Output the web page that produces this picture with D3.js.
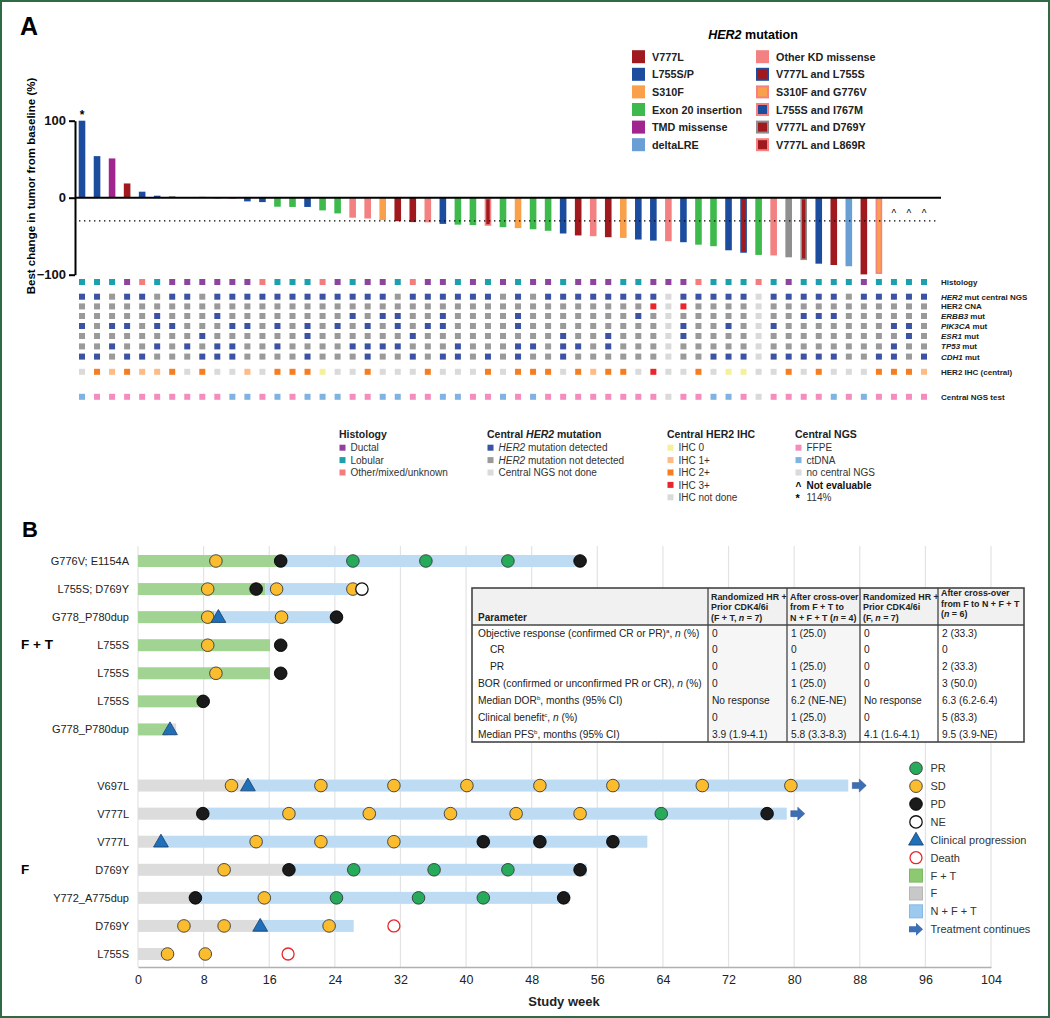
<!DOCTYPE html>
<html><head><meta charset="utf-8">
<script src="https://cdn.jsdelivr.net/npm/d3@7"></script>
<style>body{margin:0;background:#fff} svg{display:block;font-family:"Liberation Sans",Arial,sans-serif}</style>
</head><body>
<svg id="c" width="1050" height="1018"></svg>
<script>
// ================= DATA: Panel A =================
const bestChange = [100,54,51,18.5,7.8,2.6,2,0,1.2,-0.8,
 -1.5,-4.8,-5.7,-11.7,-12,-12,-16.5,-20.4,-26,-27,
 -29,-30.5,-31.7,-32,-34,-35,-35.5,-36.5,-38.3,-39.5,
 -41,-43,-46.5,-49,-50,-51.3,-52.2,-54.3,-55.7,-56.5,
 -57.8,-61,-63,-68.3,-71.5,-74.3,-75,-77.4,-81,-85.7,
 -87.4,-89,-99.6,-99,null,null,null];
const her2Mutation = ["L","L","T","V","L","L","X","X","X","L",
 "K","L","L","E","E","L","E","E","K","K",
 "S","V","V","K","L","E","E","VR","E","S",
 "E","E","L","V","K","V","S","L","L","K",
 "L","E","E","L","VL","E","K","X","VD","L",
 "V","D","V","SG",null,null,null];
const mutLegendKeys = ["V","L","S","E","T","D","K","VL","SG","LI","VD","VR"];
const mutLegendLabels = ["V777L","L755S/P","S310F","Exon 20 insertion","TMD missense","deltaLRE",
 "Other KD missense","V777L and L755S","S310F and G776V","L755S and I767M","V777L and D769Y","V777L and L869R"];
const histology = "LLLDOLDDDDDDOLLLODLDDLODDLDLDL".split("").concat("DDLDDDLLDDDOLLLOLDLLLLDLLLL".split(""));
const her2CentralNGS = "BBGBBGBBGBBBBBBBBBBBBGBBBBBBGB".split("").concat("GBBBBBBBBNBBBBBNBBBBBGBBBBB".split(""));
const cnaAmplified = [38,40];
const erbb3Mut = [5,9,18,20,21,24,29,37,48,49,50];
const pik3caMut = [0,2,3,5,6,10,11,13,15,17,19,21,23,24,29,40,43,46,54,55];
const esr1Mut = [8,15,22,32,35,40,55];
const tp53Mut = [2,5,7,9,10,13,18,19,20,21,25,29,30,32,33,35,54];
const cdh1Mut = [0,1,3,4,8,9,10,15,19,22,24,25,27,29,32,42,43,44,46,47,48,49,50,53,54,56];
const ihcCentral = "N212112N2NN1N2220NN2NNN2NNN2N2".split("").concat("22N2122N3NN2N00NN2N2NNN2221".split(""));
const ngsTest = "CFFFFFFFFFCCFCFCCCFFCCFFCCFFCF".split("").concat("CFFFFFFFFNFFCCFNFFFFCFCFFFF".split(""));
const yTicksA = [-100,0,100];

// ================= DATA: Panel B =================
const patientLabels = ["G776V; E1154A","L755S; D769Y","G778_P780dup","L755S","L755S","L755S","G778_P780dup",
 "V697L","V777L","V777L","D769Y","Y772_A775dup","D769Y","L755S"];
const patientArm = ["FT","FT","FT","FT","FT","FT","FT","F","F","F","F","F","F","F"];
const patientSegments = [
 [[0,17.4,"FT"],[17.4,54.0,"NFT"]],
 [[0,15.5,"FT"],[15.5,26.6,"NFT"]],
 [[0,9.3,"FT"],[9.3,24.2,"NFT"]],
 [[0,16.1,"FT"]],
 [[0,16.1,"FT"]],
 [[0,7.9,"FT"]],
 [[0,3.7,"FT"],[3.7,4.65,"F"]],
 [[0,13.0,"F"],[13.0,86.6,"NFT"]],
 [[0,8.1,"F"],[8.1,79.1,"NFT"]],
 [[0,2.8,"F"],[2.8,62.1,"NFT"]],
 [[0,18.4,"F"],[18.4,54.7,"NFT"]],
 [[0,7.0,"F"],[7.0,52.6,"NFT"]],
 [[0,14.9,"F"],[14.9,26.3,"NFT"]],
 [[0,3.2,"F"]]
];
const patientEvents = [
 [[9.5,"SD"],[17.4,"PD"],[26.2,"PR"],[35.1,"PR"],[45.1,"PR"],[53.9,"PD"]],
 [[8.5,"SD"],[14.4,"PD"],[16.9,"SD"],[26.2,"SD"],[27.3,"NE"]],
 [[8.5,"SD"],[9.8,"CP"],[17.5,"SD"],[24.2,"PD"]],
 [[8.5,"SD"],[17.4,"PD"]],
 [[9.5,"SD"],[17.4,"PD"]],
 [[7.95,"PD"]],
 [[3.9,"CP"]],
 [[11.4,"SD"],[13.4,"CP"],[22.3,"SD"],[31.2,"SD"],[40.1,"SD"],[49.0,"SD"],[57.9,"SD"],[68.8,"SD"],[79.6,"SD"]],
 [[7.9,"PD"],[18.4,"SD"],[28.2,"SD"],[38.1,"SD"],[46.1,"SD"],[53.9,"SD"],[63.8,"PR"],[76.7,"PD"]],
 [[2.8,"CP"],[14.4,"SD"],[22.3,"SD"],[31.2,"SD"],[42.1,"PD"],[49.0,"PD"],[57.9,"PD"]],
 [[10.5,"SD"],[18.4,"PD"],[26.3,"PR"],[36.1,"PR"],[45.1,"PR"],[53.9,"PD"]],
 [[7.0,"PD"],[15.4,"SD"],[24.2,"PR"],[34.2,"PR"],[42.1,"PR"],[51.9,"PD"]],
 [[5.6,"SD"],[10.5,"SD"],[14.9,"CP"],[23.3,"SD"],[31.2,"Death"]],
 [[3.6,"SD"],[8.2,"SD"],[18.3,"Death"]]
];
const treatmentContinues = [false,false,false,false,false,false,false,true,true,false,false,false,false,false];
const weekTicks = [0,8,16,24,32,40,48,56,64,72,80,88,96,104];
const legendBKeys = ["PR","SD","PD","NE","CP","Death","FT","F","NFT","ARROW"];
const legendBLabels = ["PR","SD","PD","NE","Clinical progression","Death","F + T","F","N + F + T","Treatment continues"];

// ================= DATA: Table =================
const tableHeaders = [
 [[["Parameter"]]],
 [[["Randomized HR +"]],[["Prior CDK4/6i"]],[["(F + T, "],["n","i"],[" = 7)"]]],
 [[["After cross-over"]],[["from F + T to"]],[["N + F + T ("],["n","i"],[" = 4)"]]],
 [[["Randomized HR +"]],[["Prior CDK4/6i"]],[["(F, "],["n","i"],[" = 7)"]]],
 [[["After cross-over"]],[["from F to N + F + T"]],[["("],["n","i"],[" = 6)"]]]
];
const tableRowLabels = [
 [["Objective response (confirmed CR or PR)"],["a","sup"],[", "],["n","i"],[" (%)"]],
 [["CR"]],[["PR"]],
 [["BOR (confirmed or unconfirmed PR or CR), "],["n","i"],[" (%)"]],
 [["Median DOR"],["b","sup"],[", months (95% CI)"]],
 [["Clinical benefit"],["c","sup"],[", "],["n","i"],[" (%)"]],
 [["Median PFS"],["b","sup"],[", months (95% CI)"]]
];
const tableRowIndent = [0,1,1,0,0,0,0];
const tableValues = [
 ["0","1 (25.0)","0","2 (33.3)"],
 ["0","0","0","0"],
 ["0","1 (25.0)","0","2 (33.3)"],
 ["0","1 (25.0)","0","3 (50.0)"],
 ["No response","6.2 (NE-NE)","No response","6.3 (6.2-6.4)"],
 ["0","1 (25.0)","0","5 (83.3)"],
 ["3.9 (1.9-4.1)","5.8 (3.3-8.3)","4.1 (1.6-4.1)","9.5 (3.9-NE)"]
];

// ================= STYLES =================
const C = {V:"#a0191f",L:"#1c4c9e",S:"#f9a04b",E:"#3dba4b",T:"#a0258f",D:"#6a9fd5",K:"#f38181",X:"#8f8f8f"};
const mutStyle = {
 V:{f:C.V},L:{f:C.L},S:{f:C.S},E:{f:C.E},T:{f:C.T},D:{f:C.D},K:{f:C.K},X:{f:C.X},
 VL:{f:C.V,s:C.L},SG:{f:C.S,s:C.K},LI:{f:C.L,s:C.K},VD:{f:C.V,s:"#8f8f8f"},VR:{f:C.V,s:C.K}
};
const histCol = {D:"#8e449f",L:"#1aa0ae",O:"#f47c7c"};
const mutCol = {B:"#3c52a3",G:"#9a9a9a",N:"#dadada",R:"#e8262b"};
const ihcCol = {"0":"#f3f19b","1":"#fdbb85","2":"#f47e21","3":"#e8262b",N:"#dadada"};
const ngsCol = {F:"#f48dbd",C:"#7fb3e2",N:"#dadada"};
const regCol = {FT:"#a1d492",F:"#dcdcdc",NFT:"#bddcf3"};
const evCol = {PR:"#26ab5b",SD:"#fbbc2e",PD:"#1b1b1b"};

const svg = d3.select("#c");
svg.append("rect").attr("x",1).attr("y",1).attr("width",1048).attr("height",1016)
  .attr("fill","#fff").attr("stroke","#2f6a47").attr("stroke-width",2);

function addSegs(t, segs, fs){
  let sup=false;
  segs.forEach(s=>{
    const ts=t.append("tspan").text(s[0]);
    if(s[1]==="i") ts.attr("font-style","italic");
    if(s[1]==="sup"){ ts.attr("font-size",fs*0.6).attr("dy",-fs*0.35); sup=true; }
    else if(sup){ ts.attr("dy",fs*0.35); sup=false; }
  });
}

// ================= PANEL A =================
svg.append("text").attr("x",20).attr("y",35).attr("font-size",25).attr("font-weight","bold").text("A");
const cols = d3.range(bestChange.length);
const xA = d3.scalePoint().domain(cols).range([82,924]);
const yA = d3.scaleLinear().domain([-100,100]).range([274.7,120.7]);

svg.append("text").attr("transform",`translate(35,186) rotate(-90)`).attr("text-anchor","middle")
  .attr("font-size",11.5).attr("font-weight","bold").text("Best change in tumor from baseline (%)");

const axA = svg.append("g").attr("transform","translate(75,0)")
  .call(d3.axisLeft(yA).tickValues(yTicksA).tickSize(6).tickSizeOuter(0));
axA.select(".domain").attr("stroke","#000").attr("stroke-width",2);
axA.selectAll(".tick line").attr("stroke","#000").attr("stroke-width",2);
axA.selectAll(".tick text").attr("font-size",13).attr("font-weight","bold").attr("fill","#111")
  .attr("font-family","Liberation Sans, Arial, sans-serif");

// bars
const bw=6.6;
cols.forEach(i=>{
  const v=bestChange[i]; if(v===null) return;
  const st=mutStyle[her2Mutation[i]];
  const y0=yA(Math.max(0,v)), h=Math.abs(yA(v)-yA(0));
  if(h<=0) return;
  if(st.s){
    svg.append("rect").attr("x",xA(i)-bw/2+0.8).attr("y",y0+0.8).attr("width",bw-1.6).attr("height",Math.max(0,h-1.6))
      .attr("fill",st.f).attr("stroke",st.s).attr("stroke-width",1.6);
  } else {
    svg.append("rect").attr("x",xA(i)-bw/2).attr("y",y0).attr("width",bw).attr("height",h).attr("fill",st.f);
  }
});
// zero line & threshold
svg.append("line").attr("x1",75).attr("x2",xA(56)+17).attr("y1",yA(0)).attr("y2",yA(0)).attr("stroke","#000").attr("stroke-width",2);
svg.append("line").attr("x1",79).attr("x2",xA(56)+13).attr("y1",yA(-30)).attr("y2",yA(-30))
  .attr("stroke","#000").attr("stroke-width",1.3).attr("stroke-dasharray","1.4,3.6");
svg.append("text").attr("x",xA(0)).attr("y",yA(100)-2).attr("text-anchor","middle").attr("font-size",12).attr("font-weight","bold").text("*");
cols.filter(i=>bestChange[i]===null).forEach(i=>{
  svg.append("text").attr("x",xA(i)).attr("y",yA(-25)).attr("text-anchor","middle").attr("font-size",10).text("^");
});

// mutation legend
svg.append("text").attr("x",753).attr("y",39).attr("text-anchor","middle").attr("font-size",12.5).attr("font-weight","bold")
  .call(t=>{t.append("tspan").attr("font-style","italic").text("HER2");t.append("tspan").text(" mutation");});
mutLegendKeys.forEach((k,i)=>{
  const col=Math.floor(i/6), r=i%6;
  const sx=col?756:632, cy=56.7+r*17.6, st=mutStyle[k];
  svg.append("rect").attr("x",sx+(st.s?1:0)).attr("y",cy-6.5+(st.s?1:0)).attr("width",st.s?11:13).attr("height",st.s?11:13)
    .attr("fill",st.f).attr("stroke",st.s||"none").attr("stroke-width",st.s?2:0);
  svg.append("text").attr("x",col?776:652).attr("y",cy+4).attr("font-size",10.8).attr("font-weight","bold").attr("fill","#222").text(mutLegendLabels[i]);
});

// matrix
const sq=6;
function drawRow(y, colorFn){
  cols.forEach(i=>{
    svg.append("rect").attr("x",xA(i)-sq/2).attr("y",y-sq/2).attr("width",sq).attr("height",sq).attr("fill",colorFn(i));
  });
}
const notDone = i => her2CentralNGS[i]==="N";
const geneColor = list => i => notDone(i) ? mutCol.N : (list.includes(i)?mutCol.B:mutCol.G);
drawRow(282, i=>histCol[histology[i]]);
drawRow(296.7, i=>mutCol[her2CentralNGS[i]]);
drawRow(306.4, i=>notDone(i)?mutCol.N:(cnaAmplified.includes(i)?mutCol.R:mutCol.G));
drawRow(316, geneColor(erbb3Mut));
drawRow(326, geneColor(pik3caMut));
drawRow(336, geneColor(esr1Mut));
drawRow(346.4, geneColor(tp53Mut));
drawRow(356.6, geneColor(cdh1Mut));
drawRow(371.8, i=>ihcCol[ihcCentral[i]]);
drawRow(396.8, i=>ngsCol[ngsTest[i]]);

const rowLabels = [
 [282,[["Histology"]]],[296.7,[["HER2","i"],[" mut central NGS"]]],[306.4,[["HER2 CNA"]]],
 [316,[["ERBB3","i"],[" mut"]]],[326,[["PIK3CA","i"],[" mut"]]],[336,[["ESR1","i"],[" mut"]]],
 [346.4,[["TP53","i"],[" mut"]]],[356.6,[["CDH1","i"],[" mut"]]],[371.8,[["HER2 IHC (central)"]]],[396.8,[["Central NGS test"]]]
];
rowLabels.forEach(([y,segs])=>{
  const t=svg.append("text").attr("x",941).attr("y",y+3).attr("font-size",8).attr("font-weight","bold").attr("fill","#222");
  addSegs(t,segs,8);
});

// bottom legends panel A
function legBlock(x, title, items){
  const t=svg.append("text").attr("x",x).attr("y",438).attr("font-size",10.5).attr("font-weight","bold").attr("fill","#222");
  addSegs(t,title,10.5);
  items.forEach((it,k)=>{
    const cy=447.7+k*12.4;
    if(it.sym){
      svg.append("text").attr("x",x+0.5).attr("y",cy+5).attr("font-size",it.sym==="*"?11:10).attr("font-weight","bold").text(it.sym);
    } else {
      svg.append("rect").attr("x",x+0.5).attr("y",cy-3).attr("width",6).attr("height",6).attr("fill",it.c);
    }
    const tt=svg.append("text").attr("x",x+11.5).attr("y",cy+3.6).attr("font-size",10).attr("fill","#333");
    if(it.b) tt.attr("font-weight","bold").attr("fill","#111");
    addSegs(tt,it.t,10);
  });
}
legBlock(339,[["Histology"]],[{c:histCol.D,t:[["Ductal"]]},{c:histCol.L,t:[["Lobular"]]},{c:histCol.O,t:[["Other/mixed/unknown"]]}]);
legBlock(487,[["Central "],["HER2","i"],["  mutation"]],[{c:mutCol.B,t:[["HER2","i"],[" mutation detected"]]},{c:mutCol.G,t:[["HER2","i"],[" mutation not detected"]]},{c:mutCol.N,t:[["Central NGS not done"]]}]);
legBlock(667,[["Central HER2 IHC"]],[{c:ihcCol["0"],t:[["IHC 0"]]},{c:ihcCol["1"],t:[["IHC 1+"]]},{c:ihcCol["2"],t:[["IHC 2+"]]},{c:ihcCol["3"],t:[["IHC 3+"]]},{c:ihcCol.N,t:[["IHC not done"]]}]);
legBlock(795,[["Central NGS"]],[{c:ngsCol.F,t:[["FFPE"]]},{c:ngsCol.C,t:[["ctDNA"]]},{c:ngsCol.N,t:[["no central NGS"]]},{sym:"^",b:true,t:[["Not evaluable"]]},{sym:"*",t:[["114%"]]}]);

// ================= PANEL B =================
svg.append("text").attr("x",22).attr("y",537).attr("font-size",22).attr("font-weight","bold").text("B");
const xB = d3.scaleLinear().domain([0,104]).range([138,991]);
const slots = d3.range(15);
const yB = d3.scalePoint().domain(slots).range([561,954]);
const slotOf = p => p<7 ? p : p+1;

svg.append("g").selectAll("line").data(weekTicks).join("line")
  .attr("x1",d=>xB(d)).attr("x2",d=>xB(d)).attr("y1",546).attr("y2",967).attr("stroke","#e3e3e3").attr("stroke-width",1.2);
const axB = svg.append("g").attr("transform","translate(0,967)").call(d3.axisBottom(xB).tickValues(weekTicks).tickSize(0).tickPadding(8).tickFormat(d3.format("d")));
axB.select(".domain").attr("stroke","#b0b0b0").attr("stroke-width",1.6);
axB.selectAll(".tick text").attr("font-size",12.5).attr("fill","#222").attr("font-family","Liberation Sans, Arial, sans-serif");
svg.append("text").attr("x",564).attr("y",1006).attr("text-anchor","middle").attr("font-size",13).attr("font-weight","bold").attr("fill","#222").text("Study week");

svg.append("text").attr("x",21).attr("y",649).attr("font-size",13.5).attr("font-weight","bold").text("F + T");
svg.append("text").attr("x",21).attr("y",874).attr("font-size",13.5).attr("font-weight","bold").text("F");

const tri = d3.symbol().type(d3.symbolTriangle).size(95);
function arrowPath(x,y){
  return `M${x},${y-3}H${x+7}V${y-6.5}L${x+14},${y}L${x+7},${y+6.5}V${y+3}H${x}Z`;
}
function drawEvent(g,x,y,type){
  if(type==="CP"){
    g.append("path").attr("d",tri).attr("transform",`translate(${x},${y+1})`).attr("fill","#1f70b8").attr("stroke","#1c3d6a").attr("stroke-width",0.8);
  } else if(type==="Death"){
    g.append("circle").attr("cx",x).attr("cy",y).attr("r",6).attr("fill","#fff").attr("stroke","#e8262b").attr("stroke-width",1.3);
  } else if(type==="NE"){
    g.append("circle").attr("cx",x).attr("cy",y).attr("r",6.2).attr("fill","#fff").attr("stroke","#111").attr("stroke-width",1.3);
  } else {
    g.append("circle").attr("cx",x).attr("cy",y).attr("r",6.3).attr("fill",evCol[type]).attr("stroke",type==="PD"?"#000":"#3a3a3a").attr("stroke-width",0.9);
  }
}
const gB = svg.append("g");
patientLabels.forEach((lab,p)=>{
  const y=yB(slotOf(p));
  svg.append("text").attr("x",129).attr("y",y+4).attr("text-anchor","end").attr("font-size",11).attr("fill","#222").text(lab);
  patientSegments[p].forEach(([a,b,r])=>{
    gB.append("rect").attr("x",xB(a)).attr("y",y-6).attr("width",xB(b)-xB(a)).attr("height",12).attr("fill",regCol[r]);
  });
  const end=d3.max(patientSegments[p],s=>s[1]);
  if(treatmentContinues[p]) gB.append("path").attr("d",arrowPath(xB(end)+4,y)).attr("fill","#3d6fb5").attr("stroke","#2c5592").attr("stroke-width",0.5);
});
patientEvents.forEach((evs,p)=>{
  const y=yB(slotOf(p));
  evs.forEach(([w,t])=>drawEvent(gB,xB(w),y,t));
});

// legend B
const legSq = {FT:["#8cc971","#7bb862"],F:["#c8c8c8","#b5b5b5"],NFT:["#9cc9ee","#85b8e3"]};
legendBKeys.forEach((k,i)=>{
  const cy=768.3+i*17.88, cx=916;
  if(["PR","SD","PD","NE","CP","Death"].includes(k)) drawEvent(svg,cx,cy,k);
  else if(k==="ARROW") svg.append("path").attr("d",arrowPath(cx-7,cy)).attr("fill","#3d6fb5");
  else svg.append("rect").attr("x",cx-6.5).attr("y",cy-6.5).attr("width",13).attr("height",13).attr("fill",legSq[k][0])
        .attr("stroke",legSq[k][1]).attr("stroke-width",1);
  svg.append("text").attr("x",930.5).attr("y",cy+4).attr("font-size",11).attr("fill","#333").text(legendBLabels[i]);
});

// ================= TABLE =================
const tEdges=[472,708,787,860,938,1024], tTop=588, tHead=625, tBot=742;
const gT=svg.append("g");
gT.append("rect").attr("x",tEdges[0]).attr("y",tTop).attr("width",tEdges[5]-tEdges[0]).attr("height",tBot-tTop).attr("fill","#fff");
gT.append("rect").attr("x",tEdges[0]).attr("y",tTop).attr("width",tEdges[5]-tEdges[0]).attr("height",tHead-tTop).attr("fill","#f1f1f1");
gT.append("rect").attr("x",tEdges[1]).attr("y",tHead).attr("width",tEdges[3]-tEdges[1]).attr("height",tBot-tHead).attr("fill","#f6f6f6");
tableHeaders.forEach((lines,c)=>{
  const base = c===0 ? [621] : (c===4 ? [596,606.5,617] : [599.5,610,620.5]);
  lines.forEach((segs,l)=>{
    const t=gT.append("text").attr("x",tEdges[c]+(c===0?6:3)).attr("y",base[l]).attr("font-size",c===0?10:8.9).attr("font-weight","bold").attr("fill","#222");
    addSegs(t,segs,8.9);
  });
});
const rowY = d3.scalePoint().domain(d3.range(tableRowLabels.length)).range([636.5,737.5]);
tableRowLabels.forEach((segs,r)=>{
  const t=gT.append("text").attr("x",tEdges[0]+6+tableRowIndent[r]*12).attr("y",rowY(r)).attr("font-size",10.2).attr("fill","#222");
  addSegs(t,segs,10.2);
  tableValues[r].forEach((v,c)=>{
    gT.append("text").attr("x",tEdges[c+1]+4).attr("y",rowY(r)).attr("font-size",10.2).attr("fill","#222").text(v);
  });
});
gT.append("rect").attr("x",tEdges[0]).attr("y",tTop).attr("width",tEdges[5]-tEdges[0]).attr("height",tBot-tTop).attr("fill","none").attr("stroke","#444").attr("stroke-width",1.6);
gT.append("line").attr("x1",tEdges[0]).attr("x2",tEdges[5]).attr("y1",tHead).attr("y2",tHead).attr("stroke","#444").attr("stroke-width",1.4);
tEdges.slice(1,5).forEach(x=>gT.append("line").attr("x1",x).attr("x2",x).attr("y1",tTop).attr("y2",tBot).attr("stroke","#444").attr("stroke-width",1.3));
</script>
</body></html>
